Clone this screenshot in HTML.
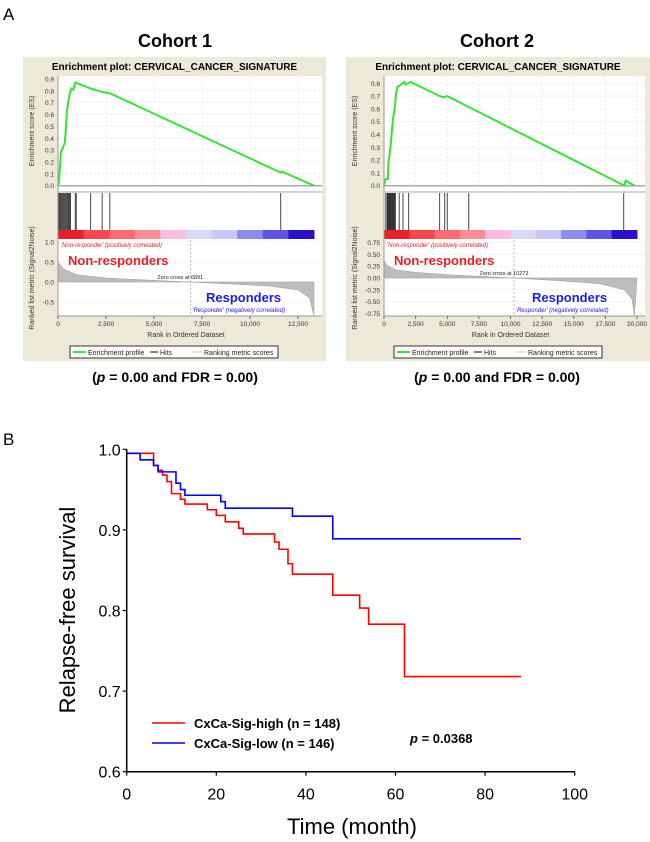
<!DOCTYPE html>
<html><head><meta charset="utf-8"><style>
html,body{margin:0;padding:0;background:#fff;width:650px;height:842px;overflow:hidden}
svg{display:block;font-family:"Liberation Sans",sans-serif}
</style></head><body>
<svg id="fig" width="650" height="842" viewBox="0 0 650 842" xmlns="http://www.w3.org/2000/svg">
<text x="3" y="20" font-size="17">A</text>
<text x="175" y="47" font-size="18" font-weight="bold" text-anchor="middle">Cohort 1</text>
<text x="497" y="47" font-size="18" font-weight="bold" text-anchor="middle">Cohort 2</text>
<text x="175" y="382" font-size="14" font-weight="bold" text-anchor="middle">(<tspan font-style="italic">p</tspan> = 0.00 and FDR = 0.00)</text>
<text x="497" y="382" font-size="14" font-weight="bold" text-anchor="middle">(<tspan font-style="italic">p</tspan> = 0.00 and FDR = 0.00)</text>
<text x="3" y="445" font-size="17">B</text>
<g id="g1"></g>
<g id="g2"></g>
<g id="km"></g>
</svg>
<script>
// ---- GSEA data ----
const es1Rank=[0,50,100,150,250,350,400,450,500,550,600,700,800,900,1700,2300,2700,11600,11650,13333];
const es1Val=[0,0.03,0.15,0.28,0.32,0.36,0.45,0.6,0.67,0.72,0.77,0.82,0.81,0.87,0.82,0.79,0.78,0.11,0.12,0];
const hits1=[50,100,150,200,250,300,350,400,450,500,550,600,650,900,950,1700,2300,2700,11600];
const metric1Rank=[0,300,1000,2500,5000,6891,9000,11000,12500,13100,13333];
const metric1Val=[0.5,0.32,0.18,0.1,0.04,0,-0.05,-0.1,-0.2,-0.4,-0.85];
const es2Rank=[0,100,300,350,450,550,650,750,850,950,1050,1200,1600,1700,2100,4400,4700,5000,6600,19000,19100,19800];
const es2Val=[0,0.05,0.05,0.18,0.25,0.34,0.46,0.55,0.6,0.72,0.77,0.78,0.81,0.79,0.81,0.7,0.69,0.7,0.62,0,0.04,0];
const hits2=[150,250,300,350,400,450,500,550,600,650,700,750,800,850,900,1200,1500,1950,4400,4800,5000,6700,18950];
const metric2Rank=[0,300,1000,2500,5000,10273,14000,17000,19000,19600,19800];
const metric2Val=[0.37,0.25,0.17,0.12,0.07,0,-0.06,-0.12,-0.25,-0.45,-0.8];
const barColors=['#e8202e','#f4474f','#fa6a70','#fb8e92','#fbbde0','#d8d9f7','#c9c8f6','#8b8cf0','#5e54e8','#2a10c8'];

const NS='http://www.w3.org/2000/svg';
function el(tag,attrs,parent,txt){const e=document.createElementNS(NS,tag);for(const k in attrs)e.setAttribute(k,attrs[k]);if(txt!==undefined)e.textContent=txt;parent.appendChild(e);return e;}

function gsea(g,o){
  el('rect',{x:o.bx,y:57,width:o.bw,height:304,fill:'#ece9d8'},g);
  el('rect',{x:o.x0,y:76,width:o.x1-o.x0+8,height:240,fill:'#fff'},g);
  const t=el('text',{x:o.bx+o.bw/2,y:70,'font-size':10,'font-weight':'bold','text-anchor':'middle'},g,'Enrichment plot: CERVICAL_CANCER_SIGNATURE');
  
  
  const X=r=>o.x0+(r/o.xmax)*(o.x1-o.x0);
  const Y=v=>o.esY0+(o.esY1-o.esY0)*(v/o.esTopV);
  for(let v=0;v<=o.esTopV+1e-9;v+=0.1){
    el('line',{x1:o.x0,x2:o.x1+8,y1:Y(v),y2:Y(v),stroke:'#ddd','stroke-dasharray':'2,2','stroke-width':0.6},g);
    el('text',{x:o.x0-4,y:Y(v)+2.5,'font-size':6.5,'text-anchor':'end',fill:'#333'},g,v.toFixed(1));
  }
  el('line',{x1:o.x0,x2:o.x1+8,y1:Y(0),y2:Y(0),stroke:'#aaa','stroke-width':1.5},g);
  for(const r of o.xticks) el('line',{x1:X(r),x2:X(r),y1:76,y2:187,stroke:'#ddd','stroke-dasharray':'2,2','stroke-width':0.6},g);
  const es=el('polyline',{points:o.esR.map((r,i)=>X(r)+','+Y(o.esV[i])).join(' '),fill:'none',stroke:'#33e633','stroke-width':2},g);
  
  
  const esy=el('text',{transform:`translate(${o.bx+11},131) rotate(-90)`,'font-size':7,'text-anchor':'middle',fill:'#333'},g,'Enrichment score (ES)');
  
  
  el('line',{x1:o.x0,x2:o.x1+8,y1:192,y2:192,stroke:'#aaa'},g);
  for(const h of o.hits){
    const l=el('line',{x1:X(h),x2:X(h),y1:193,y2:230,stroke:'#333','stroke-width':0.9},g);
    
    
  }
  const bw=(X(o.xmax)-o.x0)/barColors.length;
  barColors.forEach((c,i)=>{const r=el('rect',{x:o.x0+i*bw,y:230,width:bw+0.5,height:9,fill:c},g);
    
    });
  const M=v=>o.mY0+(v/o.mTop)*(o.mTopY-o.mY0);
  o.mticks.forEach(v=>{
    el('line',{x1:o.x0,x2:o.x1+8,y1:M(v),y2:M(v),stroke:'#ddd','stroke-dasharray':'2,2','stroke-width':0.6},g);
    el('text',{x:o.x0-4,y:M(v)+2.5,'font-size':6.5,'text-anchor':'end',fill:'#333'},g,o.mfmt(v));
  });
  let pts=o.mR.map((r,i)=>X(r)+','+M(o.mV[i])).join(' ');
  const area=el('polygon',{points:X(0)+','+M(0)+' '+pts+' '+X(o.xmax)+','+M(0),fill:'#bdbdbd',stroke:'#999','stroke-width':0.5},g);
  
  
  el('line',{x1:X(o.zero),x2:X(o.zero),y1:240,y2:316,stroke:'#999','stroke-dasharray':'2,2','stroke-width':0.7},g);
  el('text',{x:o.x0+3,y:247,'font-size':6,fill:'#e02020','font-style':'italic'},g,"'Non-responder' (positively correlated)");
  el('text',{x:X(o.zero)+2,y:312,'font-size':6,fill:'#2020e0','font-style':'italic'},g,"'Responder' (negatively correlated)");
  el('text',{x:X(o.zero)-10,y:M(0)-3,'font-size':5.5,'text-anchor':'middle',fill:'#222'},g,'Zero cross at '+o.zero);
  const nr=el('text',{x:o.x0+10,y:265,'font-size':13,'font-weight':'bold',fill:'#ee1c24'},g,'Non-responders');
  
  
  const rs=el('text',{x:o.respX,y:302,'font-size':13,'font-weight':'bold',fill:'#1c1cee'},g,'Responders');
  
  
  el('line',{x1:o.x0,x2:o.x1+8,y1:316,y2:316,stroke:'#999'},g);
  el('line',{x1:o.x0,x2:o.x0,y1:76,y2:316,stroke:'#999'},g);
  o.xticks.forEach(r=>{el('line',{x1:X(r),x2:X(r),y1:316,y2:319,stroke:'#666'},g);
    el('text',{x:X(r),y:326,'font-size':6.5,'text-anchor':'middle',fill:'#333'},g,r.toLocaleString('en-US'));});
  el('text',{x:(o.x0+o.x1)/2,y:337,'font-size':7,'text-anchor':'middle',fill:'#333'},g,'Rank in Ordered Dataset');
  el('text',{transform:`translate(${o.bx+11},278) rotate(-90)`,'font-size':7,'text-anchor':'middle',fill:'#333'},g,'Ranked list metric (Signal2Noise)');
  const lx=o.lx;
  const lg=el('g',{},g);
  
  
  el('rect',{x:lx,y:346,width:o.lw,height:12,fill:'#fff',stroke:'#333'},lg);
  el('line',{x1:lx+3,x2:lx+16,y1:352,y2:352,stroke:'#33e633','stroke-width':2},lg);
  el('text',{x:lx+18,y:355,'font-size':7,fill:'#222'},lg,'Enrichment profile');
  el('line',{x1:lx+80,x2:lx+88,y1:352,y2:352,stroke:'#333','stroke-width':1.2},lg);
  el('text',{x:lx+90,y:355,'font-size':7,fill:'#222'},lg,'Hits');
  el('line',{x1:lx+122,x2:lx+132,y1:352,y2:352,stroke:'#ccc','stroke-width':1.2},lg);
  el('text',{x:lx+134,y:355,'font-size':7,fill:'#222'},lg,'Ranking metric scores');
}
gsea(document.getElementById('g1'),{bx:23,bw:303,x0:58,x1:314,xmax:13333,esY0:185.7,esY1:79,esTopV:0.9,esR:es1Rank,esV:es1Val,hits:hits1,
  mR:metric1Rank,mV:metric1Val,mY0:282,mTopY:242,mTop:1.0,mticks:[1.0,0.5,0.0,-0.5],mfmt:v=>v.toFixed(1),zero:6891,
  xticks:[0,2500,5000,7500,10000,12500],respX:206,lx:70,lw:208});
gsea(document.getElementById('g2'),{bx:346,bw:304,x0:384,x1:637,xmax:20000,esY0:185.7,esY1:83.3,esTopV:0.8,esR:es2Rank,esV:es2Val,hits:hits2,
  mR:metric2Rank,mV:metric2Val,mY0:278,mTopY:242.7,mTop:0.75,mticks:[0.75,0.5,0.25,0,-0.25,-0.5,-0.75],mfmt:v=>v.toFixed(2),zero:10273,
  xticks:[0,2500,5000,7500,10000,12500,15000,17500,20000],respX:532,lx:394,lw:208});

// ---- KM data ----
const highT=[0,6,7,8,9,10,12,13,18,20,22,25,26,33,34,36,37,46,52,54,62];
const highS=[0.995,0.98,0.974,0.968,0.96,0.945,0.938,0.932,0.925,0.918,0.91,0.902,0.895,0.885,0.876,0.858,0.845,0.819,0.803,0.783,0.718];
const lowT=[0,3,6,7,11,12,13,21,22,37,46];
const lowS=[0.995,0.987,0.98,0.972,0.958,0.95,0.943,0.935,0.927,0.917,0.889];
const endT=88;
const kmXTicks=[0,20,40,60,80,100];
const kmYTicks=[0.6,0.7,0.8,0.9,1.0];
(function(){
  const g=document.getElementById('km');
  const X=t=>126.7+t*4.48, Y=s=>771.7-(s-0.6)/0.4*322.4;
  function step(T,S,color,name){
    let d='M'+X(T[0])+','+Y(S[0]);
    for(let i=1;i<T.length;i++) d+=' H'+X(T[i])+' V'+Y(S[i]);
    d+=' H'+X(endT);
    const p=el('path',{d:d,fill:'none',stroke:color,'stroke-width':1.6},g);
    
    
  }
  step(highT,highS,'#ff0000','km-curve-high');
  step(lowT,lowS,'#0000ff','km-curve-low');
  el('line',{x1:X(0),x2:X(0),y1:Y(1.0),y2:Y(0.6),stroke:'#000','stroke-width':1.5},g);
  el('line',{x1:X(0),x2:X(100),y1:Y(0.6),y2:Y(0.6),stroke:'#000','stroke-width':1.5},g);
  kmYTicks.forEach(v=>{el('line',{x1:X(0)-4,x2:X(0),y1:Y(v),y2:Y(v),stroke:'#000','stroke-width':1.2},g);
    el('text',{x:X(0)-6,y:Y(v)+6,'font-size':16,'text-anchor':'end'},g,v.toFixed(1));});
  kmXTicks.forEach(v=>{el('line',{x1:X(v),x2:X(v),y1:Y(0.6),y2:Y(0.6)+4,stroke:'#000','stroke-width':1.2},g);
    el('text',{x:X(v),y:Y(0.6)+28,'font-size':16,'text-anchor':'middle'},g,String(v));});
  const yt=el('text',{transform:'translate(75,610) rotate(-90)','font-size':22,'text-anchor':'middle'},g,'Relapse-free survival');
  
  
  const xt=el('text',{x:352,y:834,'font-size':22,'text-anchor':'middle'},g,'Time (month)');
  
  
  const lg=el('g',{},g);
  
  
  el('line',{x1:152,x2:185,y1:723,y2:723,stroke:'#ff0000','stroke-width':1.6},lg);
  el('text',{x:194,y:728,'font-size':13,'font-weight':'bold'},lg,'CxCa-Sig-high (n = 148)');
  el('line',{x1:152,x2:185,y1:743,y2:743,stroke:'#0000ff','stroke-width':1.6},lg);
  el('text',{x:194,y:748,'font-size':13,'font-weight':'bold'},lg,'CxCa-Sig-low (n = 146)');
  const pv=el('text',{x:410,y:743,'font-size':13,'font-weight':'bold'},g);
  
  
  pv.innerHTML='<tspan font-style="italic">p</tspan> = 0.0368';
})();
</script>
</body></html>
